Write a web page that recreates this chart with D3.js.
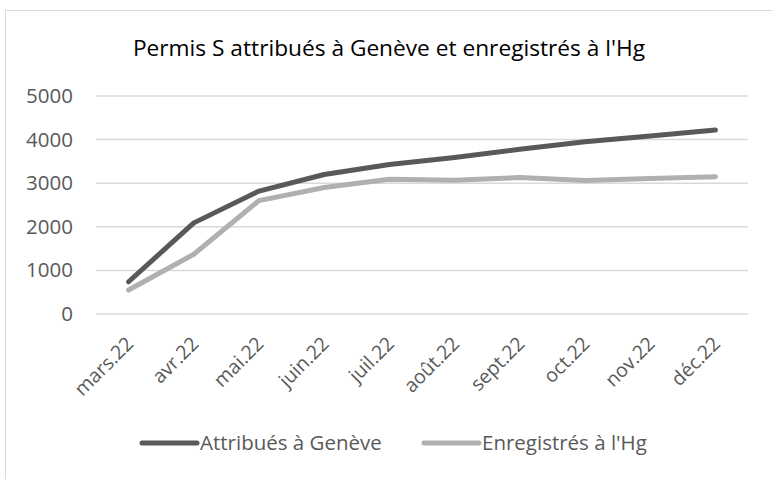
<!DOCTYPE html>
<html>
<head>
<meta charset="utf-8">
<script src="https://cdn.jsdelivr.net/npm/d3@7"></script>
<style>
  body { margin: 0; background: #fff; }
  text { font-family: "Open Sans", "DejaVu Sans", sans-serif; fill: #595959; }
</style>
</head>
<body>
<div class="container"></div>
<script>
const months = ["mars.22", "avr.22", "mai.22", "juin.22", "juil.22", "août.22", "sept.22", "oct.22", "nov.22", "déc.22"];
const geneve = [740, 2090, 2820, 3200, 3430, 3590, 3780, 3950, 4080, 4220];
const hg = [550, 1370, 2600, 2900, 3090, 3070, 3130, 3060, 3110, 3150];
const yTicks = [0, 1000, 2000, 3000, 4000, 5000];
const seriesNames = ["Attribués à Genève", "Enregistrés à l'Hg"];
const colors = ["#595959", "#b0b0b0"];

const W = 772, H = 479;
const margin = {top: 96, right: 24, bottom: 165, left: 96};
const width = W - margin.left - margin.right,
      height = H - margin.top - margin.bottom;

const svg = d3.select(".container")
    .append("svg")
    .attr("width", W)
    .attr("height", H);

// chart frame
svg.append("rect")
    .attr("x", 5.5)
    .attr("y", 10.5)
    .attr("width", W + 10)
    .attr("height", H + 10)
    .attr("fill", "none")
    .attr("stroke", "#d9d9d9");

svg.append("text")
    .attr("x", 389)
    .attr("y", 56)
    .attr("text-anchor", "middle")
    .style("font-size", "22.7px")
    .style("fill", "#000")
    .text("Permis S attribués à Genève et enregistrés à l'Hg");

const g = svg.append("g")
    .attr("transform", `translate(${margin.left}, ${margin.top})`);

const x = d3.scaleBand()
    .domain(months)
    .range([0, width]);

const y = d3.scaleLinear()
    .domain([0, 5000])
    .range([height, 0]);

g.selectAll(".grid")
    .data(yTicks)
    .join("line")
    .classed("grid", true)
    .attr("x1", 0)
    .attr("x2", width)
    .attr("y1", d => y(d))
    .attr("y2", d => y(d))
    .attr("stroke", "#d9d9d9")
    .attr("stroke-width", 1.5);

const yAxis = g.append("g")
    .call(d3.axisLeft(y).tickValues(yTicks).tickFormat(d3.format("d")).tickSize(0).tickPadding(23));
yAxis.select(".domain").remove();
yAxis.selectAll("text").style("font-size", "20.5px").style("fill", "#595959");

const xAxis = g.append("g")
    .attr("transform", `translate(0, ${height})`)
    .call(d3.axisBottom(x).tickSize(0).tickPadding(0));
xAxis.select(".domain").remove();
xAxis.selectAll("text")
    .style("font-size", "19.5px")
    .style("fill", "#595959")
    .attr("text-anchor", "end")
    .attr("dy", 0)
    .attr("transform", "translate(6, 31) rotate(-45)");

const line = d3.line()
    .x((d, i) => x(months[i]) + x.bandwidth() / 2)
    .y(d => y(d));

[geneve, hg].forEach((s, k) => {
    g.append("path")
        .datum(s)
        .attr("fill", "none")
        .attr("stroke", colors[k])
        .attr("stroke-width", 5)
        .attr("stroke-linecap", "round")
        .attr("stroke-linejoin", "round")
        .attr("d", line);
});

// legend
const legendX = [142, 424];
const legend = svg.selectAll(".legend")
    .data(seriesNames)
    .join("g")
    .classed("legend", true)
    .attr("transform", (d, i) => `translate(${legendX[i]}, 443)`);

legend.append("line")
    .attr("x1", 0)
    .attr("x2", 55)
    .attr("stroke", (d, i) => colors[i])
    .attr("stroke-width", 5)
    .attr("stroke-linecap", "round");

legend.append("text")
    .attr("x", 58)
    .attr("dy", "0.35em")
    .style("font-size", "20.5px")
    .text(d => d);
</script>
</body>
</html>
